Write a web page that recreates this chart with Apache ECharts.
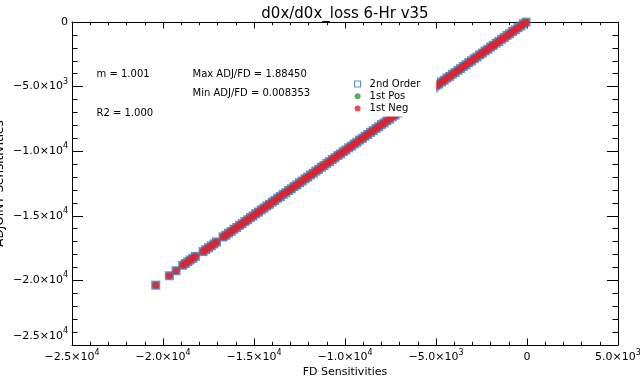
<!DOCTYPE html>
<html><head><meta charset="utf-8">
<script src="https://cdn.jsdelivr.net/npm/echarts@6/dist/echarts.min.js"></script>
<style>html,body{margin:0;padding:0;background:#fff}#c{width:640px;height:389px}</style>
</head><body><div id="c"></div><script>
const titleText = 'd0x/d0x_loss 6-Hr v35';
const xAxisName = 'FD Sensitivities';
const yAxisName = 'ADJOINT Sensitivities';
const xTicks = [-25000, -20000, -15000, -10000, -5000, 0, 5000];
const yTicks = [-25000, -20000, -15000, -10000, -5000, 0];
const seriesNames = ['2nd Order', '1st Pos', '1st Neg'];
const annotations = ['m = 1.001', 'R2 = 1.000', 'Max ADJ/FD = 1.88450', 'Min ADJ/FD = 0.008353'];

// FD (x) and ADJOINT (y) sensitivities
const fdSens = [
  -20400, -19650, -19280, -18920, -18780, -18640, -18500, -18360, -18220,
  -17800, -17650, -17500, -17350, -17200, -17060,
  -16700, -16550, -16400, -16250, -16100, -15950, -15800, -15650, -15500, -15350,
  -15200, -15050, -14900, -14750, -14600, -14450, -14300, -14150, -14000, -13850,
  -13700, -13550, -13400, -13250, -13100, -12950, -12800, -12650, -12500, -12350,
  -12200, -12050, -11900, -11750, -11600, -11450, -11300, -11150, -11000, -10850,
  -10700, -10550, -10400, -10250, -10100, -9950, -9800, -9650, -9500, -9350,
  -9200, -9050, -8900, -8750, -8600, -8450, -8300, -8150, -8000, -7850,
  -7700, -7550, -7400, -7250, -7100, -6950, -6800, -6650, -6500, -6350,
  -6200, -6050, -5900, -5750, -5600, -5450, -5300, -5150, -5000, -4850,
  -4700, -4550, -4400, -4250, -4100, -3950, -3800, -3650, -3500, -3350,
  -3200, -3050, -2900, -2750, -2600, -2450, -2300, -2150, -2000, -1850,
  -1700, -1550, -1400, -1250, -1100, -950, -800, -650, -500, -350,
  -200, -50
];
const adjSens = [
  -20370, -19640, -19250, -18830, -18700, -18560, -18420, -18290, -18140,
  -17770, -17620, -17480, -17330, -17180, -17020,
  -16640, -16510, -16340, -16210, -16040, -15910, -15740, -15610, -15440, -15310,
  -15140, -15010, -14840, -14710, -14540, -14410, -14240, -14110, -13940, -13810,
  -13640, -13510, -13340, -13210, -13040, -12910, -12740, -12610, -12440, -12310,
  -12140, -12010, -11840, -11710, -11540, -11410, -11240, -11110, -10940, -10810,
  -10640, -10510, -10340, -10210, -10040, -9910, -9740, -9610, -9440, -9310,
  -9140, -9010, -8840, -8710, -8540, -8410, -8240, -8110, -7940, -7810,
  -7640, -7510, -7340, -7210, -7040, -6910, -6740, -6610, -6440, -6310,
  -6140, -6010, -5840, -5710, -5540, -5410, -5240, -5110, -4940, -4810,
  -4640, -4510, -4340, -4210, -4040, -3910, -3740, -3610, -3440, -3310,
  -3140, -3010, -2840, -2710, -2540, -2410, -2240, -2110, -1940, -1810,
  -1640, -1510, -1340, -1210, -1040, -910, -740, -610, -440, -310,
  -140, -10
];
const posFd = [];
const posAdj = [];

const FONT = 'DejaVu Sans';
const BLUE = '#3d78b0', RED = '#e41f2a', GREEN = '#2f9a2f';

const pts = fdSens.map((x, i) => [x, adjSens[i]]);
const posPts = posFd.map((x, i) => [x, posAdj[i]]);

function sci(v) {
  if (v === 0) return '{b|0}';
  const e = Math.floor(Math.log10(Math.abs(v)) + 1e-9);
  const m = v / Math.pow(10, e);
  return '{b|' + (m < 0 ? '\u2212' : '') + Math.abs(m).toFixed(1) + '\u00d710}{s|' + e + '}';
}
const rich = {
  b: { fontFamily: FONT, fontSize: 11, color: '#000', lineHeight: 18 },
  s: { fontFamily: FONT, fontSize: 8, color: '#000', lineHeight: 8, verticalAlign: 'top' }
};

function xAx(pos, show) {
  return {
    type: 'value', position: pos, min: xTicks[0], max: xTicks[xTicks.length - 1],
    interval: xTicks[1] - xTicks[0],
    name: show ? xAxisName : '', nameLocation: 'middle', nameGap: 22, nameMoveOverlap: false,
    nameTextStyle: { fontFamily: FONT, fontSize: 11, color: '#000' },
    axisLine: { show: true, onZero: false, lineStyle: { color: '#000', width: 1 } },
    axisTick: { show: true, inside: true, length: 6.5, lineStyle: { color: '#000' } },
    minorTick: { show: true, splitNumber: 5, length: 3.2, lineStyle: { color: '#000' } },
    splitLine: { show: false },
    axisLabel: { show: show, margin: 3.5, formatter: sci, rich: rich }
  };
}
function yAx(pos, show) {
  return {
    type: 'value', position: pos, min: yTicks[0], max: yTicks[yTicks.length - 1],
    interval: yTicks[1] - yTicks[0],
    name: show ? yAxisName : '', nameLocation: 'middle', nameGap: 66, nameMoveOverlap: false,
    nameTextStyle: { fontFamily: FONT, fontSize: 12, color: '#000' },
    axisLine: { show: true, onZero: false, lineStyle: { color: '#000', width: 1 } },
    axisTick: { show: true, inside: true, length: 11, lineStyle: { color: '#000' } },
    minorTick: { show: true, splitNumber: 5, length: 5.5, lineStyle: { color: '#000' } },
    splitLine: { show: false },
    axisLabel: { show: show, margin: 4, formatter: sci, rich: rich,
      verticalAlignMinLabel: 'bottom' }
  };
}

const chart = echarts.init(document.getElementById('c'), null, { renderer: 'canvas' });
chart.setOption({
  animation: false,
  backgroundColor: '#fff',
  grid: { left: 72, right: 22, top: 22, bottom: 44, containLabel: false, outerBoundsMode: 'none' },
  xAxis: [xAx('bottom', true), xAx('top', false)],
  yAxis: [yAx('left', true), yAx('right', false)],
  legend: {
    orient: 'vertical', left: 347, top: 76, padding: [2, 16, 2, 7],
    backgroundColor: '#fff', itemWidth: 14, itemHeight: 6, itemGap: 0.3,
    symbolKeepAspect: true,
    textStyle: { fontFamily: FONT, fontSize: 10, color: '#000', lineHeight: 12 },
    data: [
      { name: seriesNames[0], icon: 'path://M0,0H10V10H0Z',
        itemStyle: { color: '#fff', borderColor: BLUE, borderWidth: 1.2 } },
      { name: seriesNames[1], icon: 'circle' },
      { name: seriesNames[2], icon: 'circle' }
    ]
  },
  graphic: [
    { type: 'text', style: { x: 345, y: 14, text: titleText, fill: '#000',
      font: '15px "' + FONT + '"', textAlign: 'center', textVerticalAlign: 'middle' } },
    { type: 'text', style: { x: 96.5, y: 74.3, text: annotations[0], fill: '#000',
      font: '10px "' + FONT + '"', textAlign: 'left', textVerticalAlign: 'middle' } },
    { type: 'text', style: { x: 96.5, y: 113.7, text: annotations[1], fill: '#000',
      font: '10px "' + FONT + '"', textAlign: 'left', textVerticalAlign: 'middle' } },
    { type: 'text', style: { x: 192.5, y: 74.3, text: annotations[2], fill: '#000',
      font: '10px "' + FONT + '"', textAlign: 'left', textVerticalAlign: 'middle' } },
    { type: 'text', style: { x: 192.5, y: 93.3, text: annotations[3], fill: '#000',
      font: '10px "' + FONT + '"', textAlign: 'left', textVerticalAlign: 'middle' } }
  ],
  series: [
    { name: seriesNames[0], type: 'scatter', xAxisIndex: 0, yAxisIndex: 0, data: pts,
      symbol: 'rect', symbolSize: 9, itemStyle: { color: BLUE }, z: 2 },
    { name: seriesNames[1], type: 'scatter', xAxisIndex: 0, yAxisIndex: 0, data: posPts,
      symbol: 'circle', symbolSize: 7, itemStyle: { color: GREEN }, z: 3 },
    { name: seriesNames[2], type: 'scatter', xAxisIndex: 0, yAxisIndex: 0, data: pts,
      symbol: 'circle', symbolSize: 7, itemStyle: { color: RED }, z: 3 }
  ]
});
</script></body></html>
